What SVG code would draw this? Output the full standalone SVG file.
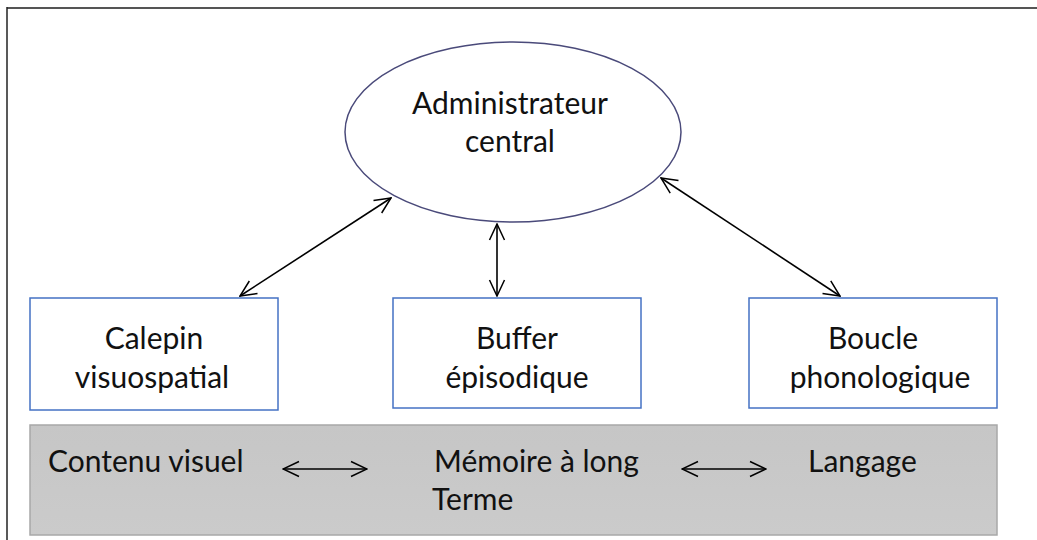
<svg xmlns="http://www.w3.org/2000/svg" width="1037" height="540" viewBox="0 0 1037 540">
<defs>
<marker id="ah2" viewBox="0 0 18 18" refX="17" refY="9" markerWidth="18" markerHeight="18" markerUnits="userSpaceOnUse" orient="auto-start-reverse">
<path d="M1,1.5 L17,9 L1,16.5" fill="none" stroke="#000" stroke-width="1.5"/>
</marker>
<linearGradient id="gr" x1="0" y1="0" x2="0" y2="1">
<stop offset="0" stop-color="#c6c6c6"/>
<stop offset="1" stop-color="#cbcbcb"/>
</linearGradient>
</defs>
<style>
.t{font-family:Lato,"Open Sans","Liberation Sans",sans-serif;font-size:30px;fill:#111;}
.m{text-anchor:middle;}
.box{fill:#fff;stroke:#4472c4;stroke-width:1.5;}
.c{stroke:#000;stroke-width:1.6;fill:none;}
</style>
<rect x="0" y="0" width="1037" height="540" fill="#fff"/>
<g id="frame">
<line x1="7" y1="8" x2="1037" y2="8" stroke="#555" stroke-width="2"/>
<line x1="7" y1="7" x2="7" y2="540" stroke="#222" stroke-width="1.5"/>
</g>
<g id="ltm">
<rect x="30" y="425" width="967" height="110" fill="url(#gr)" stroke="#a8a8a8" stroke-width="1.5"/>
<text class="t" x="48" y="472">Contenu visuel</text>
<text class="t" x="434" y="472">Mémoire à long</text>
<text class="t" x="432" y="510">Terme</text>
<text class="t" x="808" y="472">Langage</text>
</g>
<g id="admin">
<ellipse cx="513" cy="132" rx="168" ry="90" fill="#fff" stroke="#4a4a7a" stroke-width="1.5"/>
<text class="t m" x="510" y="114">Administrateur</text>
<text class="t m" x="510" y="152">central</text>
</g>
<g id="calepin">
<rect class="box" x="30" y="298" width="248" height="112"/>
<text class="t m" x="154" y="349">Calepin</text>
<text class="t m" x="152" y="388">visuospatial</text>
</g>
<g id="buffer">
<rect class="box" x="393" y="298" width="248" height="110"/>
<text class="t m" x="517" y="349">Buffer</text>
<text class="t m" x="517" y="388">épisodique</text>
</g>
<g id="boucle">
<rect class="box" x="749" y="298" width="248" height="110"/>
<text class="t m" x="873" y="349">Boucle</text>
<text class="t m" x="880" y="388">phonologique</text>
</g>
<g id="connectors">
<line class="c" x1="240" y1="296" x2="391" y2="198" marker-start="url(#ah2)" marker-end="url(#ah2)"/>
<line class="c" x1="497" y1="224" x2="497" y2="296" marker-start="url(#ah2)" marker-end="url(#ah2)"/>
<line class="c" x1="661" y1="178" x2="840" y2="296" marker-start="url(#ah2)" marker-end="url(#ah2)"/>
<line class="c" x1="283" y1="469" x2="367" y2="469" marker-start="url(#ah2)" marker-end="url(#ah2)"/>
<line class="c" x1="682" y1="469" x2="766" y2="469" marker-start="url(#ah2)" marker-end="url(#ah2)"/>
</g>
</svg>
